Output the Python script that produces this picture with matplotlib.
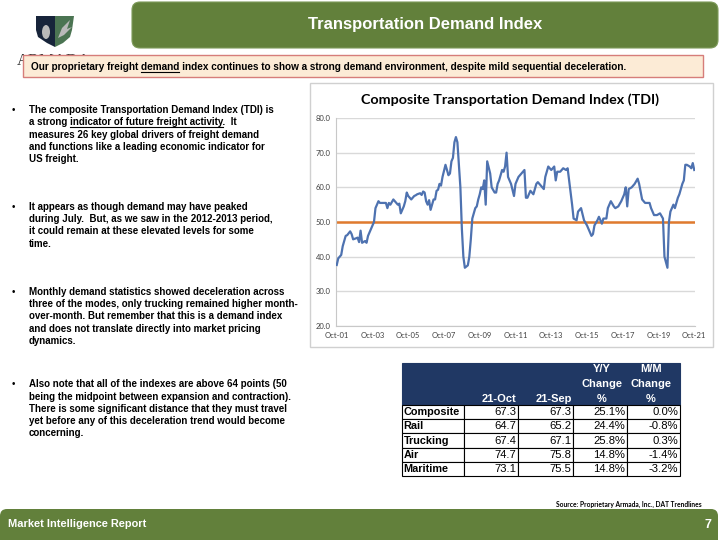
import matplotlib
matplotlib.use("Agg")
import matplotlib.pyplot as plt
from matplotlib.patches import Rectangle, FancyBboxPatch, Polygon, Ellipse
from matplotlib import font_manager

# ---------------- data ----------------
month_idx = [0, 1, 3, 4, 6, 7, 9, 10, 11, 13, 14, 15, 16, 17, 19, 20, 21, 22, 24, 25,
             26, 28, 29, 31, 33, 34, 35, 36, 38, 39, 41, 42, 43, 45, 46, 47, 48, 50, 52, 53,
             54, 56, 57, 58, 59, 60, 61, 62, 63, 65, 66, 67, 68, 69, 70, 71, 73, 75, 76, 77,
             78, 79, 80, 81, 83, 84, 85, 86, 88, 89, 90, 91, 93, 94, 95, 96, 97, 98, 99, 100,
             101, 103, 104, 106, 107, 108, 109, 111, 112, 113, 114, 115, 117, 119, 120, 122, 123, 125, 126, 127,
             128, 130, 132, 134, 135, 137, 139, 140, 142, 144, 146, 147, 148, 150, 152, 154, 155, 156, 158, 159,
             161, 162, 164, 166, 168, 170, 171, 172, 173, 175, 176, 178, 179, 181, 182, 184, 186, 187, 189, 191,
             193, 194, 195, 196, 198, 200, 202, 203, 205, 207, 208, 210, 211, 213, 215, 217, 219, 220, 222, 223,
             224, 226, 227, 229, 230, 232, 233, 234, 235, 237, 238, 239, 240]
tdi = [37.6, 39.5, 40.5, 43.0, 46.0, 46.2, 47.3, 46.5, 45.0, 45.3, 45.5, 44.2, 47.5, 44.0, 44.5, 44.0, 46.0, 47.0, 49.0, 50.0,
       54.0, 56.0, 55.5, 55.5, 55.5, 54.0, 55.5, 55.0, 56.5, 56.0, 55.0, 55.3, 52.5, 54.5, 56.0, 58.5, 57.5, 56.5, 57.5, 57.7,
       58.0, 58.3, 57.8, 58.8, 58.5, 56.0, 55.0, 56.3, 53.5, 56.5, 56.5, 59.0, 59.3, 61.0, 60.5, 63.0, 66.5, 63.5, 64.0, 67.5,
       68.5, 73.0, 74.5, 73.0, 60.0, 48.0, 40.0, 36.8, 37.5, 40.0, 45.0, 51.0, 54.0, 54.5, 56.5, 58.0, 60.0, 59.5, 62.0, 55.0,
       67.5, 64.0, 60.0, 58.5, 58.5, 61.0, 62.0, 65.0, 64.5, 66.0, 70.0, 63.0, 61.0, 57.5, 61.0, 63.0, 63.5, 64.5, 65.0, 57.0,
       57.0, 59.0, 58.0, 61.0, 61.5, 60.5, 59.5, 63.0, 66.0, 65.0, 66.0, 62.0, 64.5, 64.5, 65.5, 65.0, 65.5, 62.0, 55.0, 51.0,
       50.5, 53.0, 54.0, 50.5, 49.0, 47.0, 46.0, 46.5, 49.0, 50.5, 51.5, 49.5, 51.0, 51.0, 54.0, 56.0, 54.5, 54.0, 54.5, 56.0,
       58.0, 60.0, 54.5, 59.5, 60.0, 61.0, 62.5, 61.0, 56.5, 55.5, 55.5, 55.5, 54.0, 52.0, 52.0, 52.5, 51.0, 40.0, 36.8, 50.0,
       53.0, 55.0, 54.0, 57.0, 58.0, 61.0, 62.0, 66.5, 66.5, 66.0, 65.5, 67.0, 65.0]
threshold = 50.0
x_tick_pos = [0, 24, 48, 72, 96, 120, 144, 168, 192, 216, 240]
x_tick_labels = ["Oct-01", "Oct-03", "Oct-05", "Oct-07", "Oct-09", "Oct-11",
                 "Oct-13", "Oct-15", "Oct-17", "Oct-19", "Oct-21"]
y_ticks = [20, 30, 40, 50, 60, 70, 80]

table_modes = ["Composite", "Rail", "Trucking", "Air", "Maritime"]
oct_vals = ["67.3", "64.7", "67.4", "74.7", "73.1"]
sep_vals = ["67.3", "65.2", "67.1", "75.8", "75.5"]
yy_change = ["25.1%", "24.4%", "25.8%", "14.8%", "14.8%"]
mm_change = ["0.0%", "-0.8%", "0.3%", "-1.4%", "-3.2%"]
table_headers = ["", "21-Oct", "21-Sep", "Y/Y\nChange\n%", "M/M\nChange\n%"]

# ---------------- fonts ----------------
avail = {f.name for f in font_manager.fontManager.ttflist}
NARROW = ["Liberation Sans Narrow"] if "Liberation Sans Narrow" in avail else ["Liberation Sans"]
ARIAL = ["Liberation Sans"]
CAL = ["Lato"]

GREEN = "#62803B"
NAVY = "#203864"

fig = plt.figure(figsize=(7.2, 5.4), dpi=100)
bg = fig.add_axes([0, 0, 1, 1])
bg.set_xlim(0, 720)
bg.set_ylim(540, 0)
bg.axis("off")

# header
bg.add_patch(FancyBboxPatch((132, 2), 586, 46, boxstyle="round,pad=0,rounding_size=8",
                            fc=GREEN, ec="#7d9a5a", lw=0.8, zorder=1))
bg.text(425, 25, "Transportation Demand Index", color="white", fontsize=12, fontweight="bold",
        family=NARROW, ha="center", va="center", zorder=2)

# logo
bg.add_patch(Polygon([(36, 16), (55, 16), (55, 47), (47, 43), (38, 37), (36, 30)],
                     closed=True, fc="#17243a", ec="none", zorder=2))
bg.add_patch(Polygon([(55, 16), (74, 16), (72, 30), (70, 37), (63, 43), (55, 47)],
                     closed=True, fc="#4b7452", ec="none", zorder=2))
bg.add_patch(Ellipse((46, 32), 8, 14, fc="#b9b9b9", ec="none", zorder=3))
bg.add_patch(Polygon([(58, 38), (62, 28), (70, 20), (67, 29), (72, 27), (64, 35)],
                     closed=True, fc="#b9b9b9", ec="none", zorder=3))
bg.text(17, 65, "ARMADA", fontsize=12, family=["Liberation Serif"], color="#333333",
        ha="left", va="baseline", zorder=2)

# callout box
bg.add_patch(Rectangle((23, 55), 680, 22, fc="#FCEBD6", ec="#D67D7A", lw=1, zorder=4))
renderer = fig.canvas.get_renderer()


def text_width(s, **kw):
    t = bg.text(0, 0, s, **kw)
    w = t.get_window_extent(renderer=renderer).width
    t.remove()
    return w


def line_with_underline(x, y, before, under, after, **kw):
    full = before + under + after
    bg.text(x, y, full, ha="left", va="center", **kw)
    if under:
        w_bu = text_width(before + under, **kw)
        w_u = text_width(under, **kw)
        x1 = x + w_bu
        x0 = x1 - w_u
        bg.plot([x0, x1], [y + 5.0, y + 5.0], color=kw.get("color", "black"), lw=0.8,
                zorder=kw.get("zorder", 5))


ck = dict(fontsize=7.2, fontweight="bold", family=NARROW, color="black", zorder=5)
line_with_underline(31, 66.5, "Our proprietary freight ", "demand",
                    " index continues to show a strong demand environment, despite mild sequential deceleration.",
                    **ck)

# bullets
bk = dict(fontsize=7.0, fontweight="bold", family=NARROW, color="black", zorder=5)
bullets = [
    (110, [("The composite Transportation Demand Index (TDI) is", "", ""),
           ("a strong ", "indicator of future freight activity", ".  It"),
           ("measures 26 key global drivers of freight demand", "", ""),
           ("and functions like a leading economic indicator for", "", ""),
           ("US freight.", "", "")]),
    (206.7, [("It appears as though demand may have peaked", "", ""),
             ("during July.  But, as we saw in the 2012-2013 period,", "", ""),
             ("it could remain at these elevated levels for some", "", ""),
             ("time.", "", "")]),
    (291.7, [("Monthly demand statistics showed deceleration across", "", ""),
             ("three of the modes, only trucking remained higher month-", "", ""),
             ("over-month. But remember that this is a demand index", "", ""),
             ("and does not translate directly into market pricing", "", ""),
             ("dynamics.", "", "")]),
    (384.3, [("Also note that all of the indexes are above 64 points (50", "", ""),
             ("being the midpoint between expansion and contraction).", "", ""),
             ("There is some significant distance that they must travel", "", ""),
             ("yet before any of this deceleration trend would become", "", ""),
             ("concerning.", "", "")]),
]
for y0, lines in bullets:
    bg.text(13, y0, "\u2022", fontsize=7, family=ARIAL, ha="center", va="center", color="black")
    for i, (b, u, a) in enumerate(lines):
        line_with_underline(29, y0 + i * 12.3, b, u, a, **bk)

# chart frame
bg.add_patch(Rectangle((310, 83), 403, 264, fc="white", ec="#d0d0d0", lw=1, zorder=1))
bg.text(510, 100, "Composite Transportation Demand Index (TDI)", fontsize=10.3, fontweight="bold",
        family=CAL, color="black", ha="center", va="center", zorder=2)

ax = fig.add_axes([336 / 720, 1 - 326 / 540, (695 - 336) / 720, (326 - 118) / 540])
ax.set_facecolor("none")
ax.plot(month_idx, tdi, color="#4E72B0", lw=1.6, zorder=3, solid_joinstyle="round")
ax.axhline(threshold, color="#E07A2E", lw=1.8, zorder=2)
ax.set_xlim(-0.5, 240.5)
ax.set_ylim(20, 80)
ax.set_yticks(y_ticks)
ax.set_yticklabels([f"{v:.1f}" for v in y_ticks])
ax.set_xticks(x_tick_pos)
ax.set_xticklabels(x_tick_labels)
ax.grid(axis="y", color="#d9d9d9", lw=1)
ax.set_axisbelow(True)
for s in ["top", "right"]:
    ax.spines[s].set_visible(False)
for s in ["left", "bottom"]:
    ax.spines[s].set_color("#c8c8c8")
    ax.spines[s].set_linewidth(0.8)
ax.tick_params(length=0, labelsize=5.5, labelcolor="#404040", pad=4)
for lab in ax.get_xticklabels() + ax.get_yticklabels():
    lab.set_family(CAL)

# table
col_edges = [402, 464, 518, 573, 627, 680]
head_top, head_bot = 363, 405
row_h = 14.2
bg.add_patch(Rectangle((col_edges[0], head_top), col_edges[-1] - col_edges[0], head_bot - head_top,
                       fc=NAVY, ec=NAVY, lw=0.8, zorder=2))
hk = dict(fontsize=8, fontweight="bold", family=ARIAL, color="white", zorder=3)
bg.text(col_edges[2] - 1.5, 399, table_headers[1], ha="right", va="center", **hk)
bg.text(col_edges[3] - 1.5, 399, table_headers[2], ha="right", va="center", **hk)
for ci, cx in [(3, 602), (4, 651)]:
    for li, part in enumerate(table_headers[ci].split("\n")):
        bg.text(cx, 369 + li * 15, part, ha="center", va="center", **hk)

rk = dict(fontsize=7.8, fontweight="bold", family=ARIAL, color="black", zorder=3)
vk = dict(fontsize=8.1, family=ARIAL, color="black", zorder=3)
for r in range(len(table_modes)):
    y_top = head_bot + r * row_h
    yc = y_top + row_h / 2
    for c in range(5):
        bg.add_patch(Rectangle((col_edges[c], y_top), col_edges[c + 1] - col_edges[c], row_h,
                               fc="white", ec="black", lw=0.8, zorder=2))
    bg.text(col_edges[0] + 1.5, yc, table_modes[r], ha="left", va="center", **rk)
    for c, vals in enumerate([oct_vals, sep_vals, yy_change, mm_change], start=1):
        bg.text(col_edges[c + 1] - 2, yc, vals[r], ha="right", va="center", **vk)

# source
bg.text(702, 504, "Source: Proprietary Armada, Inc., DAT Trendlines", fontsize=4.8, fontweight="bold",
        family=CAL, color="black", ha="right", va="center")

# footer
bg.add_patch(FancyBboxPatch((0, 509), 718, 40, boxstyle="round,pad=0,rounding_size=7",
                            fc=GREEN, ec="none", zorder=1))
bg.text(8, 524, "Market Intelligence Report", fontsize=7.9, fontweight="bold", family=NARROW,
        color="white", ha="left", va="center", zorder=2)
bg.text(708, 525, "7", fontsize=9, fontweight="bold", family=NARROW, color="white",
        ha="center", va="center", zorder=2)

fig.savefig("out.png", dpi=100)
